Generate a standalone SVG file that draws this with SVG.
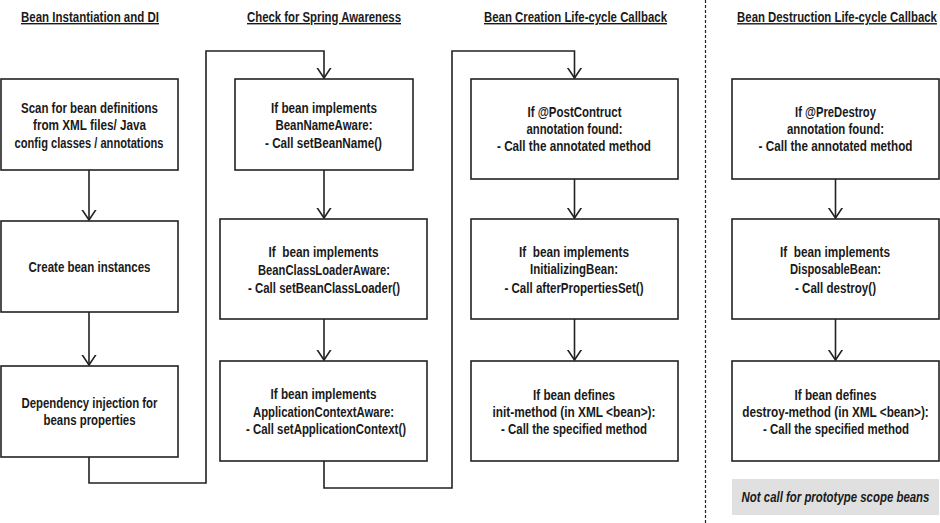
<svg xmlns="http://www.w3.org/2000/svg" width="940" height="523" viewBox="0 0 940 523">
<style>
.box{fill:#fff;stroke:#222;stroke-width:1.6}
text{font-family:"Liberation Sans",Arial,sans-serif;font-weight:bold;fill:#1a1a1a;text-anchor:middle}
.t{font-size:14.5px}
.h{font-size:14px;text-decoration:underline}
.c{fill:none;stroke:#222;stroke-width:1.6}
.note{fill:#e0e0e0}
.ni{font-size:14.5px;font-style:italic}
</style>
<defs>
<marker id="v" viewBox="0 0 20 20" refX="10" refY="10" markerWidth="20" markerHeight="20" markerUnits="userSpaceOnUse" orient="auto">
<path d="M-2,2 L10,10 L-2,18" fill="none" stroke="#222" stroke-width="1.6"/>
</marker>
</defs>
<rect width="940" height="523" fill="#fff"/>
<g id="titles">
<text class="h" x="90" y="22" textLength="138" lengthAdjust="spacingAndGlyphs">Bean Instantiation and DI</text>
<text class="h" x="324" y="22" textLength="154" lengthAdjust="spacingAndGlyphs">Check for Spring Awareness</text>
<text class="h" x="575.5" y="22" textLength="183" lengthAdjust="spacingAndGlyphs">Bean Creation Life-cycle Callback</text>
<text class="h" x="0" y="0" transform="translate(837,22) scale(0.8134,1)">Bean Destruction Life-cycle Callback</text>
</g>
<line x1="705.5" y1="0" x2="705.5" y2="523" stroke="#222" stroke-width="1.2" stroke-dasharray="3,2"/>
<g id="connectors">
<path class="c" d="M89,170 V220" marker-end="url(#v)"/>
<path class="c" d="M89,312 V365" marker-end="url(#v)"/>
<path class="c" d="M89,457 V483 H206 V51 H324 V78" marker-end="url(#v)"/>
<path class="c" d="M324,170 V218" marker-end="url(#v)"/>
<path class="c" d="M324,319 V360" marker-end="url(#v)"/>
<path class="c" d="M324,461 V488 H452 V51 H574.5 V78" marker-end="url(#v)"/>
<path class="c" d="M574.5,178 V218" marker-end="url(#v)"/>
<path class="c" d="M574.5,319 V360" marker-end="url(#v)"/>
<path class="c" d="M835.5,178 V218" marker-end="url(#v)"/>
<path class="c" d="M835.5,319 V360" marker-end="url(#v)"/>
</g>
<g id="n1">
<rect class="box" x="1" y="79" width="177" height="91"/>
<text class="t" x="89.5" y="112.5" textLength="137" lengthAdjust="spacingAndGlyphs">Scan for bean definitions</text>
<text class="t" x="89.5" y="130" textLength="113" lengthAdjust="spacingAndGlyphs">from XML files/ Java</text>
<text class="t" x="0" y="0" transform="translate(89,147.5) scale(0.767,1)">config classes / annotations</text>
</g>
<g id="n2">
<rect class="box" x="1" y="221" width="177" height="91"/>
<text class="t" x="89.5" y="272" textLength="122" lengthAdjust="spacingAndGlyphs">Create bean instances</text>
</g>
<g id="n3">
<rect class="box" x="1" y="366" width="177" height="91"/>
<text class="t" x="89.5" y="408" textLength="136" lengthAdjust="spacingAndGlyphs">Dependency injection for</text>
<text class="t" x="89.5" y="425" textLength="92" lengthAdjust="spacingAndGlyphs">beans properties</text>
</g>
<g id="n4">
<rect class="box" x="235" y="79" width="178" height="91"/>
<text class="t" x="324" y="112.5" textLength="106" lengthAdjust="spacingAndGlyphs">If bean implements</text>
<text class="t" x="324" y="130" textLength="97" lengthAdjust="spacingAndGlyphs">BeanNameAware:</text>
<text class="t" x="323.5" y="147.5" textLength="117" lengthAdjust="spacingAndGlyphs">- Call setBeanName()</text>
</g>
<g id="n5">
<rect class="box" x="220" y="219" width="207" height="100"/>
<text class="t" x="323.5" y="257" textLength="110" lengthAdjust="spacingAndGlyphs" xml:space="preserve">If  bean implements</text>
<text class="t" x="324" y="275" textLength="132" lengthAdjust="spacingAndGlyphs">BeanClassLoaderAware:</text>
<text class="t" x="324" y="292.5" textLength="152" lengthAdjust="spacingAndGlyphs">- Call setBeanClassLoader()</text>
</g>
<g id="n6">
<rect class="box" x="220" y="361" width="207" height="100"/>
<text class="t" x="323.5" y="399" textLength="106" lengthAdjust="spacingAndGlyphs">If bean implements</text>
<text class="t" x="323.5" y="417" textLength="141" lengthAdjust="spacingAndGlyphs">ApplicationContextAware:</text>
<text class="t" x="326" y="434" textLength="160" lengthAdjust="spacingAndGlyphs">- Call setApplicationContext()</text>
</g>
<g id="n7">
<rect class="box" x="471" y="79" width="207" height="100"/>
<text class="t" x="574.5" y="117" textLength="94" lengthAdjust="spacingAndGlyphs">If @PostContruct</text>
<text class="t" x="574.5" y="134" textLength="96" lengthAdjust="spacingAndGlyphs">annotation found:</text>
<text class="t" x="574" y="151" textLength="154" lengthAdjust="spacingAndGlyphs">- Call the annotated method</text>
</g>
<g id="n8">
<rect class="box" x="471" y="219" width="207" height="100"/>
<text class="t" x="574" y="257" textLength="110" lengthAdjust="spacingAndGlyphs" xml:space="preserve">If  bean implements</text>
<text class="t" x="574" y="274" textLength="88" lengthAdjust="spacingAndGlyphs">InitializingBean:</text>
<text class="t" x="574" y="293" textLength="139" lengthAdjust="spacingAndGlyphs">- Call afterPropertiesSet()</text>
</g>
<g id="n9">
<rect class="box" x="471" y="361" width="207" height="100"/>
<text class="t" x="574" y="399.5" textLength="82" lengthAdjust="spacingAndGlyphs">If bean defines</text>
<text class="t" x="574" y="417" textLength="163" lengthAdjust="spacingAndGlyphs">init-method (in XML &lt;bean&gt;):</text>
<text class="t" x="574" y="434" textLength="146" lengthAdjust="spacingAndGlyphs">- Call the specified method</text>
</g>
<g id="n10">
<rect class="box" x="732" y="79" width="207" height="100"/>
<text class="t" x="835.5" y="117" textLength="81" lengthAdjust="spacingAndGlyphs">If @PreDestroy</text>
<text class="t" x="835.5" y="134" textLength="97" lengthAdjust="spacingAndGlyphs">annotation found:</text>
<text class="t" x="0" y="0" transform="translate(835.5,151) scale(0.8066,1)">- Call the annotated method</text>
</g>
<g id="n11">
<rect class="box" x="732" y="219" width="207" height="100"/>
<text class="t" x="835" y="257" textLength="110" lengthAdjust="spacingAndGlyphs" xml:space="preserve">If  bean implements</text>
<text class="t" x="835.5" y="274" textLength="91" lengthAdjust="spacingAndGlyphs">DisposableBean:</text>
<text class="t" x="835.5" y="293" textLength="81" lengthAdjust="spacingAndGlyphs">- Call destroy()</text>
</g>
<g id="n12">
<rect class="box" x="732" y="361" width="207" height="100"/>
<text class="t" x="835.5" y="399.5" textLength="82" lengthAdjust="spacingAndGlyphs">If bean defines</text>
<text class="t" x="0" y="0" transform="translate(835.5,417) scale(0.8116,1)">destroy-method (in XML &lt;bean&gt;):</text>
<text class="t" x="0" y="0" transform="translate(836,434) scale(0.791,1)">- Call the specified method</text>
</g>
<g id="note">
<rect class="note" x="732" y="479" width="207" height="36"/>
<text class="ni" x="0" y="0" transform="translate(835.5,502) scale(0.788,1)">Not call for prototype scope beans</text>
</g>
</svg>
